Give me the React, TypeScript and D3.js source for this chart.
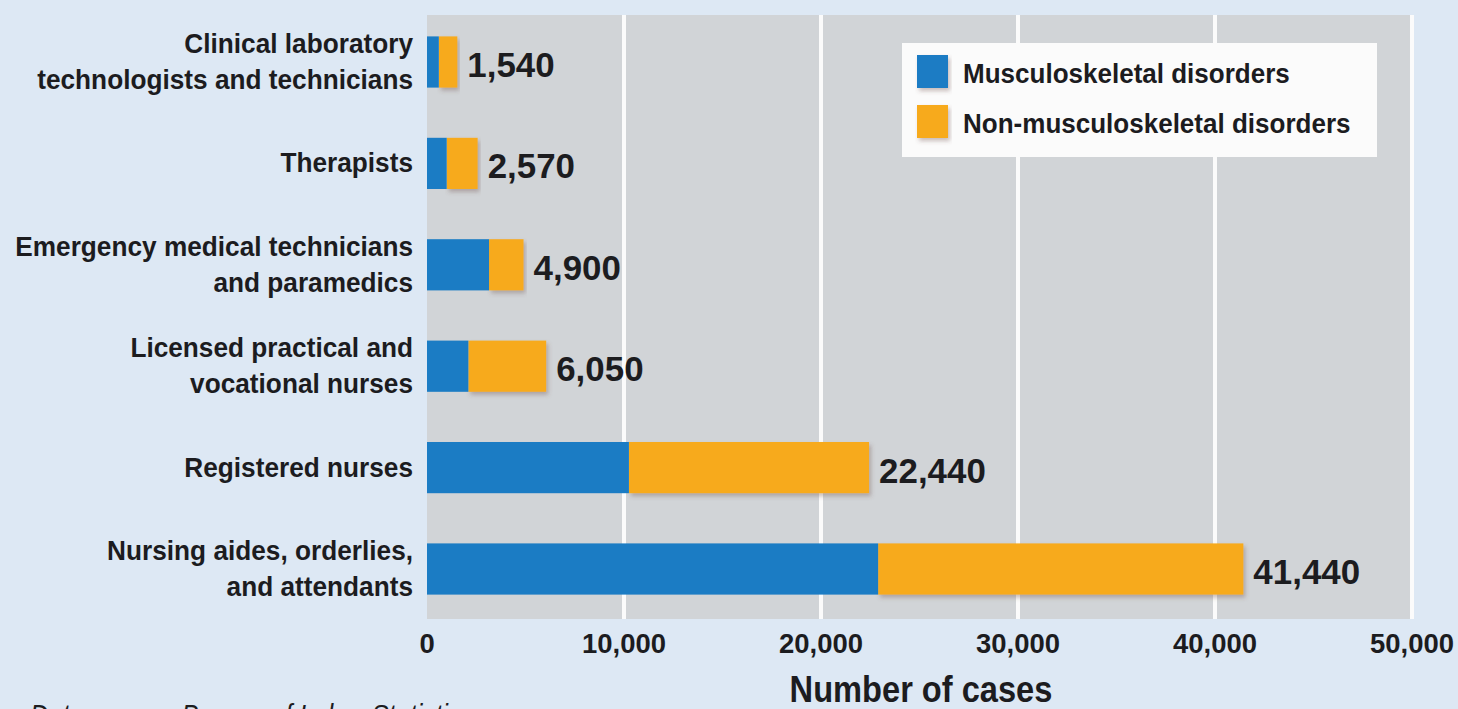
import React from "react";
import * as d3 from "d3";

const categories = [
  "Clinical laboratory technologists and technicians",
  "Therapists",
  "Emergency medical technicians and paramedics",
  "Licensed practical and vocational nurses",
  "Registered nurses",
  "Nursing aides, orderlies, and attendants",
];
const categoryLines = [
  ["Clinical laboratory", "technologists and technicians"],
  ["Therapists"],
  ["Emergency medical technicians", "and paramedics"],
  ["Licensed practical and", "vocational nurses"],
  ["Registered nurses"],
  ["Nursing aides, orderlies,", "and attendants"],
];
const musculoskeletal = [600, 1000, 3150, 2100, 10250, 22900];
const nonMusculoskeletal = [940, 1570, 1750, 3950, 12190, 18540];
const totalLabels = ["1,540", "2,570", "4,900", "6,050", "22,440", "41,440"];
const xTicks = [0, 10000, 20000, 30000, 40000, 50000];
const seriesNames = ["Musculoskeletal disorders", "Non-musculoskeletal disorders"];

const W = 1458;
const H = 709;
const FONT = "'Liberation Sans', Arial, sans-serif";
const BG = "#dde8f4";
const PLOT_BG = "#d1d4d7";
const BLUE = "#1b7cc4";
const ORANGE = "#f7aa1f";
const TEXT = "#1c1c1f";

// condensed-looking text: Liberation Sans squeezed horizontally
const NText = ({ x, y, size, sx = 0.85, anchor = "start", weight = "bold", italic = false, children }: any) => (
  <text
    transform={`translate(${x},${y}) scale(${sx},1)`}
    textAnchor={anchor}
    fontSize={size}
    fontWeight={weight}
    fontStyle={italic ? "italic" : "normal"}
    fill={TEXT}
  >
    {children}
  </text>
);

const App = () => {
  const plotLeft = 427;
  const plotRight = 1412;
  const plotTop = 15;
  const plotBottom = 619;

  const x = d3.scaleLinear().domain([0, 50000]).range([plotLeft, plotRight]);
  const y = d3.scalePoint<string>().domain(categories).range([62, 569]);
  const barH = y.step() * 0.505;

  const rows = categories.map((c, i) => ({
    cat: c,
    musc: musculoskeletal[i],
    non: nonMusculoskeletal[i],
  }));
  const layers = d3.stack<any>().keys(["musc", "non"])(rows);
  const colors = [BLUE, ORANGE];

  return (
    <svg
      width={W}
      height={H}
      style={{ position: "absolute", left: 0, top: 0, display: "block" }}
      fontFamily={FONT}
    >
      <defs>
        <filter id="shadow" x="-5%" y="-20%" width="115%" height="160%">
          <feDropShadow dx="2" dy="3" stdDeviation="2" floodColor="#6b4a40" floodOpacity="0.35" />
        </filter>
      </defs>
      <rect x={0} y={0} width={W} height={H} fill={BG} />
      <rect x={plotLeft} y={plotTop} width={plotRight - plotLeft - 2} height={plotBottom - plotTop} fill={PLOT_BG} />

      {/* grid */}
      {xTicks.slice(1).map((t) => (
        <line key={t} x1={x(t)} x2={x(t)} y1={plotTop} y2={plotBottom} stroke="#fbfbfb" strokeWidth={4} />
      ))}

      {/* bars: orange with shadow first, then blue on top */}
      {layers[1].map((d, i) => (
        <rect
          key={"o" + i}
          x={x(d[0])}
          y={(y(categories[i]) as number) - barH / 2}
          width={x(d[1]) - x(d[0])}
          height={barH}
          fill={ORANGE}
          filter="url(#shadow)"
        />
      ))}
      {layers[0].map((d, i) => (
        <rect
          key={"b" + i}
          x={x(d[0])}
          y={(y(categories[i]) as number) - barH / 2}
          width={x(d[1]) - x(d[0])}
          height={barH}
          fill={BLUE}
        />
      ))}

      {/* total labels */}
      {layers[1].map((d, i) => (
        <NText key={"t" + i} x={x(d[1]) + 10} y={(y(categories[i]) as number) + 15} size={36} sx={0.97}>
          {totalLabels[i]}
        </NText>
      ))}

      {/* category labels */}
      {categories.map((c, i) => {
        const lines = categoryLines[i];
        const cy = y(c) as number;
        const lh = 36;
        const start = cy + 9 - ((lines.length - 1) * lh) / 2;
        return (
          <g key={c}>
            {lines.map((l, j) => (
              <NText key={j} x={413} y={start + j * lh} size={28.5} sx={0.92} anchor="end">
                {l}
              </NText>
            ))}
          </g>
        );
      })}

      {/* x axis ticks */}
      {xTicks.map((t) => (
        <NText key={"x" + t} x={x(t)} y={653} size={28} sx={0.98} anchor="middle">
          {d3.format(",")(t)}
        </NText>
      ))}
      <NText x={921} y={702} size={37.5} sx={0.87} anchor="middle">
        Number of cases
      </NText>

      {/* legend */}
      <rect x={902} y={43} width={475} height={114} fill="#fbfbfb" />
      {seriesNames.map((s, i) => (
        <g key={s}>
          <rect x={917} y={55 + i * 50} width={31} height={33} fill={colors[i]} filter="url(#shadow)" />
          <NText x={963} y={83 + i * 50} size={28} sx={0.93}>
            {s}
          </NText>
        </g>
      ))}

      <NText x={30} y={725} size={30} sx={0.85} weight="normal" italic>
        Data source: Bureau of Labor Statistics
      </NText>
    </svg>
  );
};

export default App;
